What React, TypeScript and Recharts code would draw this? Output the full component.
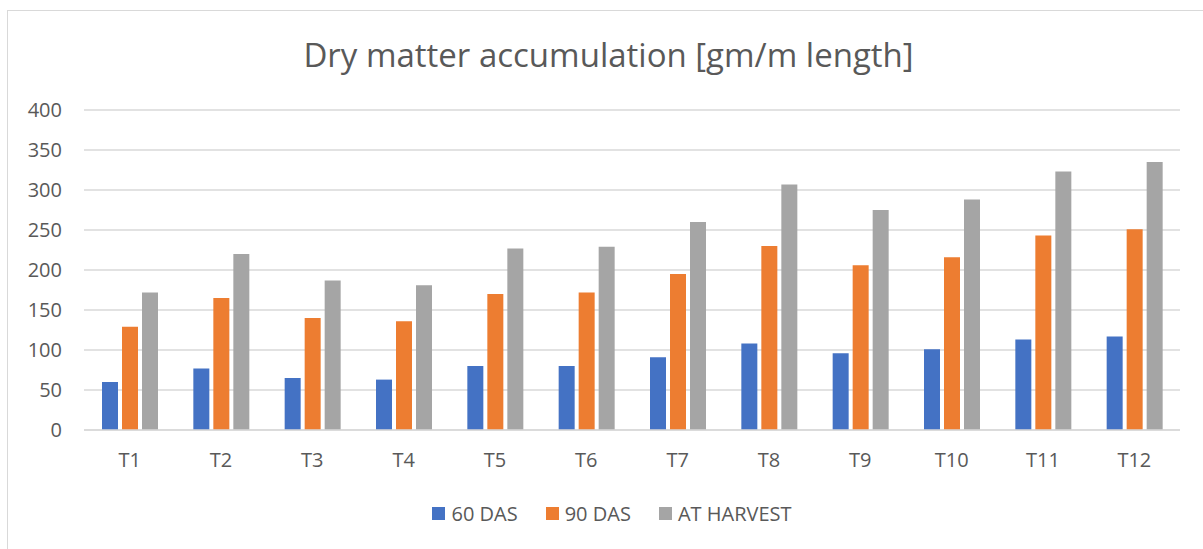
import { BarChart, Bar, XAxis, YAxis, CartesianGrid, Legend } from 'recharts';

const categories = ['T1', 'T2', 'T3', 'T4', 'T5', 'T6', 'T7', 'T8', 'T9', 'T10', 'T11', 'T12'];
const das60 = [60, 77, 65, 63, 80, 80, 91, 108, 96, 101, 113, 117];
const das90 = [129, 165, 140, 136, 170, 172, 195, 230, 206, 216, 243, 251];
const atHarvest = [172, 220, 187, 181, 227, 229, 260, 307, 275, 288, 323, 335];
const yTicks = [0, 50, 100, 150, 200, 250, 300, 350, 400];

const data = categories.map((name, i) => ({
  name,
  d60: das60[i],
  d90: das90[i],
  harvest: atHarvest[i],
}));

const FONT = '"Open Sans", sans-serif';
const TEXT = '#595959';

const LegendContent = ({ payload }: any) => (
  <div style={{ display: 'flex', justifyContent: 'center', alignItems: 'center', gap: 28, fontFamily: FONT, fontSize: 20, color: TEXT }}>
    {(payload || []).map((p: any) => (
      <span key={p.value} style={{ display: 'flex', alignItems: 'center', gap: 6 }}>
        <span style={{ width: 13, height: 13, background: p.color, display: 'inline-block' }} />
        {p.value}
      </span>
    ))}
  </div>
);

export default function App() {
  return (
    <div style={{ position: 'absolute', left: 0, top: 0, width: 1203, height: 549, overflow: 'hidden', background: '#fff' }}>
      <div style={{ position: 'absolute', left: 7, top: 10, width: 1300, height: 700, border: '1px solid #d9d9d9' }} />
      <div style={{ position: 'absolute', left: 0, top: 32, width: 1217, textAlign: 'center', fontFamily: FONT, fontSize: 33, color: TEXT }}>
        Dry matter accumulation [gm/m length]
      </div>
      <div style={{ position: 'absolute', left: 0, top: 0 }}>
        <BarChart width={1203} height={549} data={data} margin={{ top: 110, right: 23, left: 24, bottom: 62 }} barSize={16} barGap={4}>
          <CartesianGrid vertical={false} stroke="#d9d9d9" strokeWidth={1.3} />
          <XAxis
            dataKey="name"
            axisLine={{ stroke: '#d9d9d9', strokeWidth: 1.3 }}
            tickLine={false}
            tickMargin={17}
            height={30}
            tick={{ fill: TEXT, fontSize: 20, fontFamily: FONT }}
          />
          <YAxis
            domain={[0, 400]}
            ticks={yTicks}
            width={60}
            axisLine={false}
            tickLine={false}
            tickMargin={16}
            tick={{ fill: TEXT, fontSize: 20, fontFamily: FONT }}
          />
          <Legend
            content={<LegendContent />}
            wrapperStyle={{ position: 'absolute', top: 500, left: 22, width: 1180 }}
          />
          <Bar dataKey="d60" name="60 DAS" fill="#4472C4" isAnimationActive={false} />
          <Bar dataKey="d90" name="90 DAS" fill="#ED7D31" isAnimationActive={false} />
          <Bar dataKey="harvest" name="AT HARVEST" fill="#A5A5A5" isAnimationActive={false} />
        </BarChart>
      </div>
    </div>
  );
}
